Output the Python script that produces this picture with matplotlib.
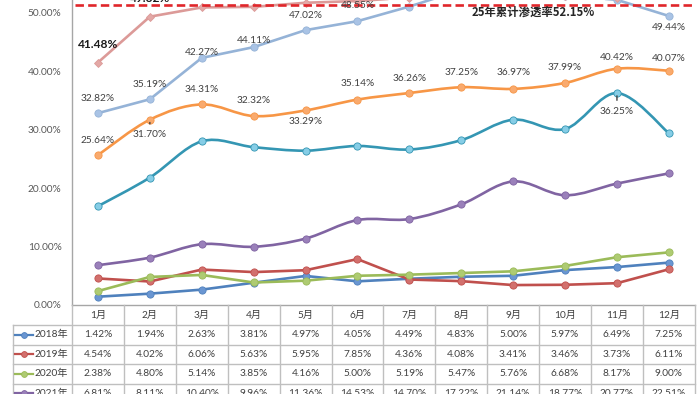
import numpy as np
import matplotlib
matplotlib.use("Agg")
import matplotlib.pyplot as plt
from matplotlib.path import Path
from matplotlib.patches import PathPatch

# ---------------- data ----------------
months = ["1月", "2月", "3月", "4月", "5月", "6月", "7月", "8月", "9月", "10月", "11月", "12月"]
years = ["2018年", "2019年", "2020年", "2021年", "2022年", "2023年", "2024年", "2025年"]

s2018 = [1.42, 1.94, 2.63, 3.81, 4.97, 4.05, 4.49, 4.83, 5.00, 5.97, 6.49, 7.25]
s2019 = [4.54, 4.02, 6.06, 5.63, 5.95, 7.85, 4.36, 4.08, 3.41, 3.46, 3.73, 6.11]
s2020 = [2.38, 4.80, 5.14, 3.85, 4.16, 5.00, 5.19, 5.47, 5.76, 6.68, 8.17, 9.00]
s2021 = [6.81, 8.11, 10.40, 9.96, 11.36, 14.53, 14.70, 17.22, 21.14, 18.77, 20.77, 22.51]
s2022 = [16.9, 21.8, 28.0, 27.0, 26.4, 27.2, 26.6, 28.2, 31.7, 30.1, 36.25, 29.4]
s2023 = [25.64, 31.70, 34.31, 32.32, 33.29, 35.14, 36.26, 37.25, 36.97, 37.99, 40.42, 40.07]
s2024 = [32.82, 35.19, 42.27, 44.11, 47.02, 48.55, 51.05, 53.9, 53.3, 52.9, 52.2, 49.44]
s2025 = [41.48, 49.32, 50.90, 51.00, 51.7, 52.0, 52.6, 53.3, 53.5, 52.8, 52.6]

series = [s2018, s2019, s2020, s2021, s2022, s2023, s2024, s2025]
cum_text = "25年累计渗透率52.15%"
cum_line_level = 51.35  # level at which the dashed reference line is drawn

table_rows = 4  # rows of the data table visible in the view (2018-2021)

# ---------------- styles ----------------
line_colors = ["#4F81BD", "#C0504D", "#9BBB59", "#8064A2", "#3496B3", "#F79646", "#95B3D7", "#DC9A98"]
marker_colors = ["#6A96D2", "#D2706D", "#AECB72", "#9A80BA", "#86CDE6", "#F9AA6E", "#A9C3E5", "#E3A8A6"]
markers = ["o", "o", "o", "o", "o", "o", "o", "D"]
smooth = [False, False, False, True, True, True, False, False]

# data-label specs: (series index, point index, dy px (+ = below), bold)
labels = [
    (5, 0, -15, False), (5, 1, 15, False), (5, 2, -15, False), (5, 3, -16, False),
    (5, 4, 11, False), (5, 5, -16, False), (5, 6, -15, False), (5, 7, -15, False),
    (5, 8, -16, False), (5, 9, -15, False), (5, 10, -11, False), (5, 11, -12, False),
    (6, 0, -15, False), (6, 1, -15, False), (6, 2, -5, False), (6, 3, -7, False),
    (6, 4, -15, False), (6, 5, -16, False), (6, 11, 12, False),
    (4, 10, 18, False),
    (7, 0, -18, True), (7, 1, -18, True),
]

plt.rcParams["font.family"] = ["Lato", "Noto Sans CJK SC", "DejaVu Sans"]
TXT = "#404040"
GRID = "#BFBFBF"

W, H = 700, 394
fig = plt.figure(figsize=(W / 100, H / 100), dpi=100)

x0_px, x1_px = 72.0, 694.8
y0_px = 305.0
px_per_pct = 5.846
ymax = 60
ax = fig.add_axes([x0_px / W, (H - y0_px) / H, (x1_px - x0_px) / W, ymax * px_per_pct / H])
ax.set_xlim(-0.5, 11.5)
ax.set_ylim(0, ymax)
ax.set_facecolor("none")
for s in ["top", "right"]:
    ax.spines[s].set_visible(False)
for s in ["left", "bottom"]:
    ax.spines[s].set_color("#A6A6A6")
    ax.spines[s].set_linewidth(1.0)
ax.set_xticks([])
yt = np.arange(0, 51, 10)
ax.set_yticks(yt)
ax.set_yticklabels([f"{v:.2f}%" for v in yt], fontsize=7.3, color="#595959")
ax.tick_params(axis="y", length=0, pad=7.5)


def smooth_path(xs, ys):
    pts = np.column_stack([xs, ys]).astype(float)
    n = len(pts)
    verts = [pts[0]]
    codes = [Path.MOVETO]
    for i in range(n - 1):
        p0 = pts[i - 1] if i > 0 else pts[i]
        p1 = pts[i]
        p2 = pts[i + 1]
        p3 = pts[i + 2] if i + 2 < n else pts[i + 1]
        verts += [p1 + (p2 - p0) / 6.0, p2 - (p3 - p1) / 6.0, p2]
        codes += [Path.CURVE4] * 3
    return Path(verts, codes)


for k, vals in enumerate(series):
    xs = np.arange(len(vals))
    if smooth[k]:
        patch = PathPatch(smooth_path(xs, vals), facecolor="none", edgecolor=line_colors[k],
                          lw=1.9, zorder=2 + k, capstyle="round", joinstyle="round")
        ax.add_patch(patch)
    else:
        ax.plot(xs, vals, color=line_colors[k], lw=1.9, zorder=2 + k, solid_joinstyle="round")
    ax.plot(xs, vals, linestyle="none", marker=markers[k], markersize=5.2 if markers[k] == "o" else 4.5,
            markerfacecolor=marker_colors[k], markeredgecolor=line_colors[k], markeredgewidth=0.6,
            zorder=2.5 + k)

# dashed reference line + text
ax.axhline(cum_line_level, xmin=0.005, xmax=1.0, color="#E0262A", lw=1.9, ls=(0, (3.2, 1.6)), zorder=20)
ax.text(8.38, 50.0, cum_text, ha="center", va="center", fontsize=8.2, fontweight="bold",
        color="#262626", family=["Noto Sans CJK SC", "DejaVu Sans"], zorder=21)

# data labels
for si, pi, dy, bold in labels:
    v = series[si][pi]
    ax.annotate(f"{v:.2f}%", (pi, v), xytext=(0, -dy * 0.72), textcoords="offset points",
                ha="center", va="center", fontsize=8.6 if bold else 7.3,
                fontweight="bold" if bold else "normal", color="#1A1A1A" if bold else TXT, zorder=30)
# small leader marks
for si, pi, dy, bold in [(5, 1, 15, False), (4, 10, 18, False)]:
    v = series[si][pi]
    ax.annotate("", xy=(pi, v), xytext=(0, -(dy - 8) * 0.72), textcoords="offset points",
                xycoords="data",
                arrowprops=dict(arrowstyle="-", color="#404040", lw=1.0), zorder=31)

# ---------------- data table ----------------
tab = fig.add_axes([0, 0, 1, 1])
tab.set_xlim(0, W)
tab.set_ylim(H, 0)
tab.axis("off")
tab.set_facecolor("none")

col_w = (x1_px - x0_px) / 12
left_px = 13.0
row_top = [325.0 + 19.5 * r for r in range(table_rows + 1)]
hdr_y = 315.5

for c in range(13):
    xc = x0_px + c * col_w
    tab.plot([xc, xc], [y0_px, row_top[-1]], color=GRID, lw=1.0, zorder=1)
tab.plot([left_px, left_px], [row_top[0], row_top[-1]], color=GRID, lw=1.0, zorder=1)
for yr in row_top:
    tab.plot([left_px, x1_px], [yr, yr], color=GRID, lw=1.0, zorder=1)

for c, m in enumerate(months):
    tab.text(x0_px + (c + 0.5) * col_w, hdr_y, m, ha="center", va="center", fontsize=7.3, color=TXT)

for r in range(table_rows):
    yc = (row_top[r] + row_top[r + 1]) / 2
    tab.plot([15, 33], [yc, yc], color=line_colors[r], lw=1.6, zorder=2)
    tab.plot([24], [yc], marker="o", markersize=4.2, markerfacecolor=marker_colors[r],
             markeredgecolor=line_colors[r], markeredgewidth=0.6, zorder=3)
    tab.text(34.5, yc, years[r], ha="left", va="center", fontsize=7.3, color=TXT)
    for c, v in enumerate(series[r]):
        tab.text(x0_px + (c + 0.5) * col_w, yc, f"{v:.2f}%", ha="center", va="center",
                 fontsize=7.3, color=TXT)

fig.savefig("out.png", dpi=100)
